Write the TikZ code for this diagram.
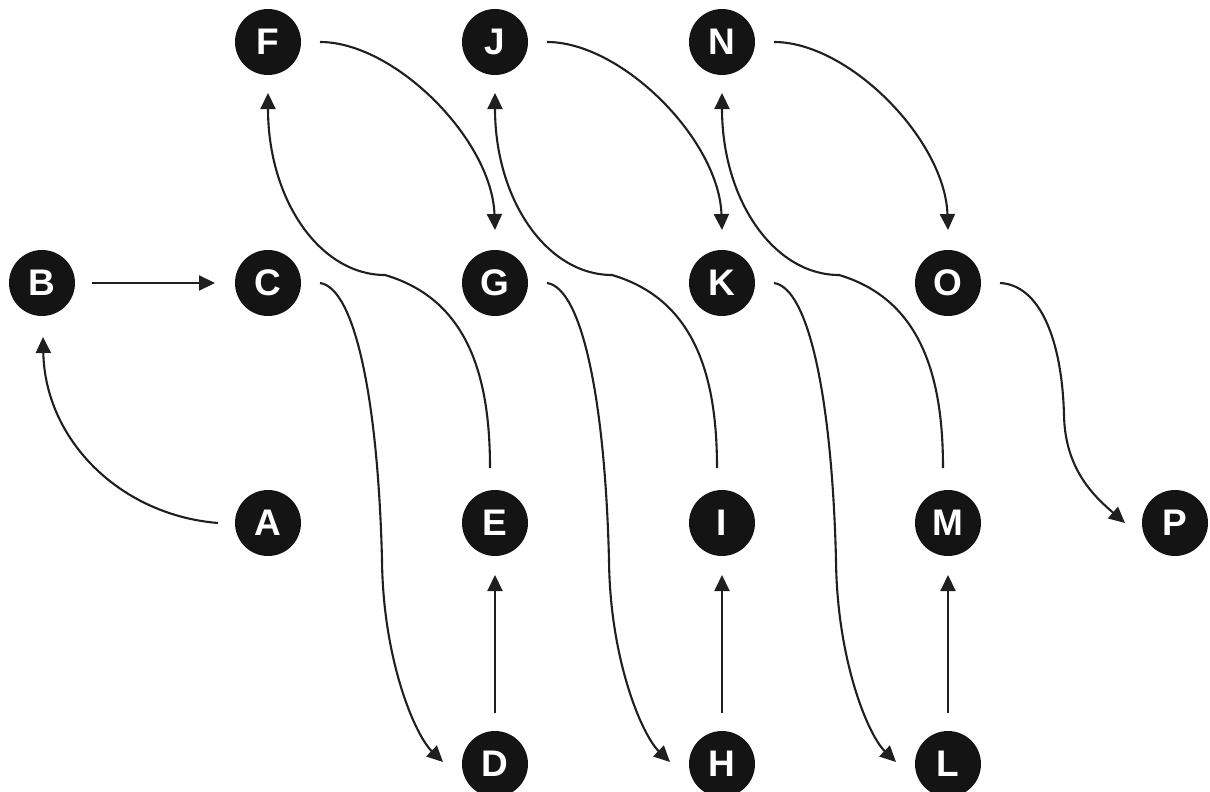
\documentclass[tikz,border=0pt]{standalone}
\usepackage{fontspec}
\setsansfont{Liberation Sans}
\usetikzlibrary{arrows.meta,calc}
\tikzset{
  vtx/.style={circle, fill=black!92, minimum size=66pt, inner sep=0pt, text=white,
    font=\sffamily\bfseries\fontsize{37}{37}\selectfont},
  arr/.style={line width=2.1pt, draw=black!88, -{Triangle[length=16pt,width=15pt]}}
}
\begin{document}
\begin{tikzpicture}[x=1pt,y=-1pt]
\useasboundingbox (0,0) rectangle (1210,792);
% nodes
\node[vtx] (F) at (268,42) {F};
\node[vtx] (J) at (495,42) {J};
\node[vtx] (N) at (722,42) {N};
\node[vtx] (B) at (42,283) {B};
\node[vtx] (C) at (268,283) {C};
\node[vtx] (G) at (495,283) {G};
\node[vtx] (K) at (722,283) {K};
\node[vtx] (O) at (948,283) {O};
\node[vtx] (A) at (268,523) {A};
\node[vtx] (E) at (495,523) {E};
\node[vtx] (I) at (722,523) {I};
\node[vtx] (M) at (948,523) {M};
\node[vtx] (P) at (1175,523) {P};
\node[vtx] (D) at (495,764) {D};
\node[vtx] (H) at (722,764) {H};
\node[vtx] (L) at (948,764) {L};
% A -> B
\draw[arr] ($(A)+(-50,0)$) .. controls ($(A)+(-148,-8)$) and ($(B)+(3,157)$) .. ($(B)+(1,54)$);
% B -> C
\draw[arr] ($(B)+(50,0)$) -- ($(C)+(-53,0)$);
% C->D, G->H, K->L
\foreach \s/\t in {C/D,G/H,K/L}{
  \draw[arr] ($(\s)+(52,0)$) .. controls ($(\s)+(87,5)$) and ($(\s)+(110,117)$) ..
    ($(\s)+(114,277)$) .. controls ($(\s)+(115,377)$) and ($(\t)+(-80,-29)$) ..
    ($(\t)+(-52,-2)$);
}
% D->E, H->I, L->M
\foreach \s/\t in {D/E,H/I,L/M}{
  \draw[arr] ($(\s)+(0,-51)$) -- ($(\t)+(0,52)$);
}
% E->F, I->J, M->N
\foreach \s/\t in {E/F,I/J,M/N}{
  \draw[arr] ($(\s)+(-5,-55)$) .. controls ($(\s)+(-5,-143)$) and ($(\s)+(-25,-223)$) ..
    ($(\t)+(117,233)$) .. controls ($(\t)+(52,233)$) and ($(\t)+(0,158)$) ..
    ($(\t)+(0,51)$);
}
% F->G, J->K, N->O
\foreach \s/\t in {F/G,J/K,N/O}{
  \draw[arr] ($(\s)+(52,0)$) .. controls ($(\s)+(127,0)$) and ($(\t)+(-3,-143)$) ..
    ($(\t)+(0,-53)$);
}
% O -> P
\draw[arr] ($(O)+(52,0)$) .. controls ($(O)+(92,2)$) and ($(O)+(114,57)$) ..
  ($(O)+(116,132)$) .. controls ($(O)+(117,187)$) and ($(P)+(-80,-26)$) ..
  ($(P)+(-50,0)$);
\end{tikzpicture}
\end{document}
